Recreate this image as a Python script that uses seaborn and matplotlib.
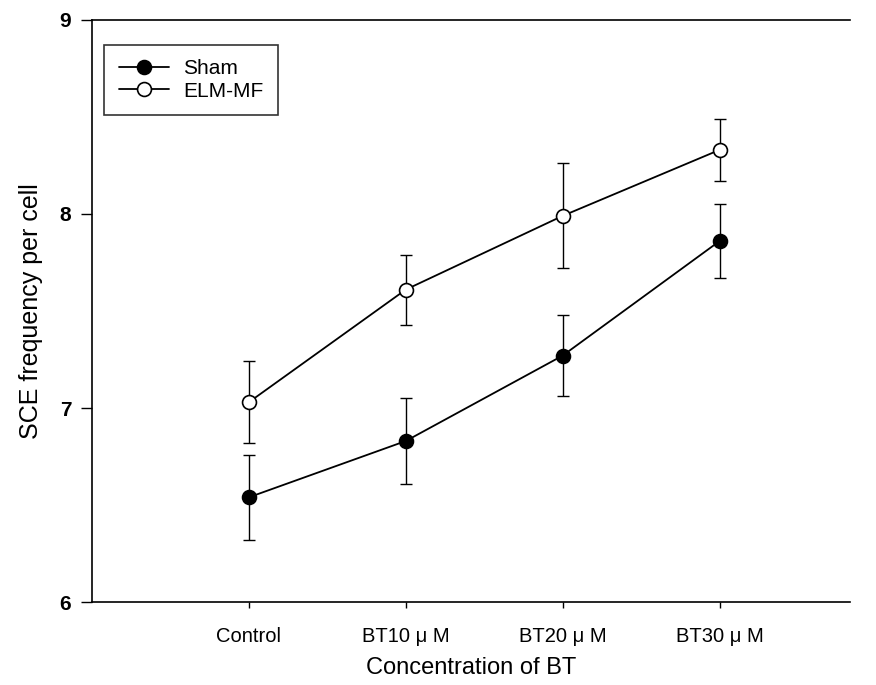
import matplotlib
matplotlib.use("Agg")
import matplotlib.pyplot as plt
import seaborn as sns
import pandas as pd
import numpy as np

categories = ["Control", "BT10 \u03bc M", "BT20 \u03bc M", "BT30 \u03bc M"]
sham_mean = [6.54, 6.83, 7.27, 7.86]
sham_err = [0.22, 0.22, 0.21, 0.19]
elm_mean = [7.03, 7.61, 7.99, 8.33]
elm_err = [0.21, 0.18, 0.27, 0.16]

sns.set_theme(style="white")
plt.rcParams['font.family'] = ['Liberation Sans', 'DejaVu Sans']
plt.rcParams['text.color'] = 'black'
plt.rcParams['axes.labelcolor'] = 'black'
plt.rcParams['xtick.color'] = 'black'
plt.rcParams['ytick.color'] = 'black'

pos = np.arange(len(categories))
df = pd.DataFrame({
    "pos": np.concatenate([pos, pos]),
    "mean": sham_mean + elm_mean,
    "err": sham_err + elm_err,
    "group": ["Sham"] * 4 + ["ELM-MF"] * 4,
})

fig = plt.figure(figsize=(8.76, 6.85), dpi=100)
ax = fig.add_axes([0.105, 0.121, 0.865, 0.850])

for grp, fc in [("Sham", "black"), ("ELM-MF", "white")]:
    d = df[df.group == grp]
    ax.errorbar(d["pos"], d["mean"], yerr=d["err"], fmt="none", ecolor="black",
                elinewidth=1.0, capsize=4, capthick=1.0, zorder=2)
    sns.lineplot(data=d, x="pos", y="mean", ax=ax, color="black", lw=1.3,
                 marker="o", markersize=10, markerfacecolor=fc,
                 markeredgecolor="black", markeredgewidth=1.2, label=grp,
                 zorder=3)

ax.set_xlim(-1.0, 3.83)
ax.set_ylim(6, 9)
ax.set_yticks([6, 7, 8, 9])
ax.set_yticklabels(["6", "7", "8", "9"], fontsize=15, fontweight="bold")
ax.set_xticks(pos)
ax.set_xticklabels(categories, fontsize=14.5)
ax.tick_params(axis="y", direction="out", length=8, width=1, color="black", pad=7, left=True)
ax.tick_params(axis="x", direction="out", length=4, width=1, color="black", pad=14, bottom=True)
ax.set_xlabel("Concentration of BT", fontsize=17, labelpad=8)
ax.set_ylabel("SCE frequency per cell", fontsize=18, labelpad=12)

for s in ["left", "bottom", "top"]:
    ax.spines[s].set_visible(True)
    ax.spines[s].set_color("black")
    ax.spines[s].set_linewidth(1.2)
ax.spines["right"].set_visible(False)

leg = ax.legend(loc="upper left", bbox_to_anchor=(0.016, 0.957), borderaxespad=0,
                fontsize=15, frameon=True, fancybox=False, edgecolor="black",
                handlelength=2.4, borderpad=0.7, labelspacing=0.15, handletextpad=0.7)
leg.get_frame().set_linewidth(1.2)

fig.savefig("out.png", dpi=100)
